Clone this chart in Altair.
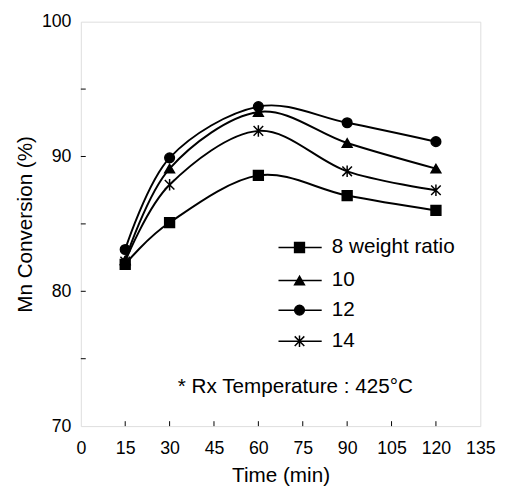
import altair as alt
import pandas as pd

times = [15, 30, 60, 90, 120]
series_names = ["8 weight ratio", "10", "12", "14"]
s8 = [82.0, 85.1, 88.6, 87.1, 86.0]
s10 = [82.3, 89.1, 93.3, 91.0, 89.1]
s12 = [83.1, 89.9, 93.7, 92.5, 91.1]
s14 = [82.2, 87.9, 91.9, 88.9, 87.5]

x_ticks = [0, 15, 30, 45, 60, 75, 90, 105, 120, 135]
y_ticks = [70, 75, 80, 85, 90, 95, 100]

# legend layout (in data units)
legend_y = [83.25, 80.8, 78.6, 76.3]
legend_x_line = [66.8, 81.4]
legend_x_marker = 73.9
legend_x_text = 84.8
note_text = "* Rx Temperature : 425\u00b0C"
note_pos = [72.5, 72.9]

rows = []
for name, vals in zip(series_names, [s8, s10, s12, s14]):
    for t, v in zip(times, vals):
        rows.append({"series": name, "time": t, "conv": v})
df = pd.DataFrame(rows)

star = "M-1,-1L1,1M-1,1L1,-1M0,-1.2L0,1.2"
shape_scale = alt.Scale(domain=series_names, range=["square", "triangle-up", "circle", star])
size_scale = alt.Scale(domain=series_names, range=[100, 95, 90, 60])

W, H = 406, 411
xs = alt.Scale(domain=[0, 135], nice=False, zero=False)
ys = alt.Scale(domain=[70, 100], nice=False, zero=False)

font = "Liberation Sans"

x_enc = alt.X("time:Q", scale=xs,
              axis=alt.Axis(values=x_ticks, ticks=False, domain=False, grid=False,
                            labelFont=font, labelFontSize=18, labelColor="black",
                            labelPadding=14, title="Time (min)", titleFont=font,
                            titleFontSize=21, titleFontWeight="normal", titleColor="black",
                            titlePadding=7, labelFlush=False))
y_enc = alt.Y("conv:Q", scale=ys,
              axis=alt.Axis(values=y_ticks, ticks=False, domain=False, grid=False,
                            labelExpr="datum.value % 10 == 0 ? datum.label : ''",
                            labelFont=font, labelFontSize=18, labelColor="black",
                            labelPadding=10, title="Mn Conversion (%)", titleFont=font,
                            titleFontSize=21, titleFontWeight="normal", titleColor="black",
                            titlePadding=6, labelFlush=False))

lines = alt.Chart(df).mark_line(color="black", strokeWidth=2, interpolate="cardinal").encode(
    x=x_enc, y=y_enc, detail="series:N")

points = alt.Chart(df).mark_point(filled=True, color="black", stroke="black", strokeWidth=1.5, opacity=1).encode(
    x="time:Q", y="conv:Q",
    shape=alt.Shape("series:N", scale=shape_scale, legend=None),
    size=alt.Size("series:N", scale=size_scale, legend=None))

# inward ticks
xt = pd.DataFrame({"t": x_ticks[1:-1]})
x_tick_marks = alt.Chart(xt).mark_rule(color="black", strokeWidth=1).encode(
    x=alt.X("t:Q", scale=xs), y=alt.value(H), y2=alt.value(H - 5))
yt = pd.DataFrame({"v": y_ticks[1:-1]})
y_tick_marks = alt.Chart(yt).mark_rule(color="black", strokeWidth=1).encode(
    y=alt.Y("v:Q", scale=ys), x=alt.value(0), x2=alt.value(5))

# legend
leg = pd.DataFrame({"series": series_names, "ly": legend_y,
                    "x1": [legend_x_line[0]] * 4, "x2": [legend_x_line[1]] * 4,
                    "xm": [legend_x_marker] * 4, "xt": [legend_x_text] * 4})
leg_lines = alt.Chart(leg).mark_rule(color="black", strokeWidth=1.5).encode(
    x=alt.X("x1:Q", scale=xs), x2="x2:Q", y=alt.Y("ly:Q", scale=ys))
leg_pts = alt.Chart(leg).mark_point(filled=True, color="black", stroke="black", strokeWidth=1.5, opacity=1).encode(
    x=alt.X("xm:Q", scale=xs), y=alt.Y("ly:Q", scale=ys),
    shape=alt.Shape("series:N", scale=shape_scale, legend=None),
    size=alt.Size("series:N", scale=size_scale, legend=None))
leg_text = alt.Chart(leg).mark_text(align="left", baseline="middle", font=font, fontSize=21, color="black").encode(
    x=alt.X("xt:Q", scale=xs), y=alt.Y("ly:Q", scale=ys), text="series:N")

note = alt.Chart(pd.DataFrame({"x": [note_pos[0]], "y": [note_pos[1]], "t": [note_text]})).mark_text(
    align="center", baseline="middle", font=font, fontSize=21, color="black").encode(
    x=alt.X("x:Q", scale=xs), y=alt.Y("y:Q", scale=ys), text="t:N")

chart = alt.layer(lines, points, x_tick_marks, y_tick_marks, leg_lines, leg_pts, leg_text, note).properties(
    width=W, height=H,
    autosize=alt.AutoSizeParams(type="none"),
    padding={"left": 74, "top": 10, "right": 20, "bottom": 60},
).configure_view(stroke="black", strokeWidth=1.5).configure(background="white")

chart.save("out.html", embed_options={"renderer": "svg", "actions": False})
